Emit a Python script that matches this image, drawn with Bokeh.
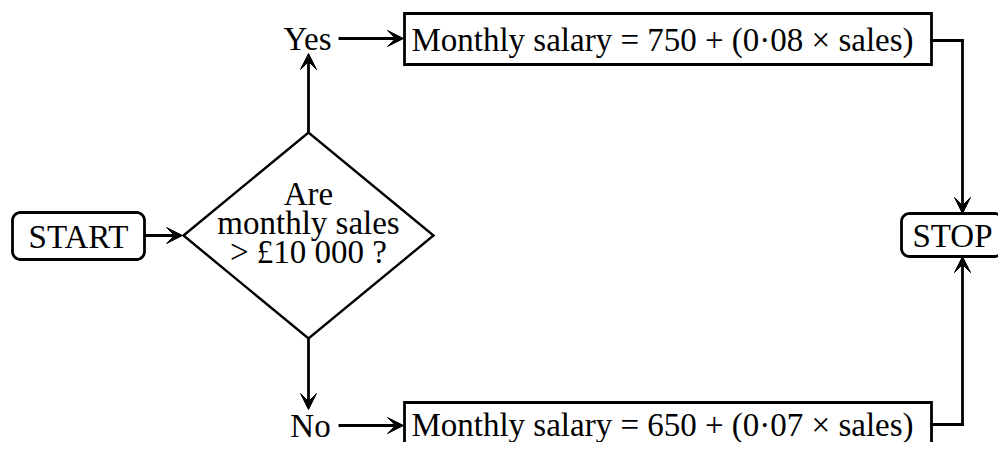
import numpy as np
from bokeh.plotting import figure
from bokeh.models import Range1d, Arrow, VeeHead
from bokeh.core.properties import value
from bokeh.embed import file_html
from bokeh.resources import INLINE

# ---- content ----
start_label = "START"
stop_label = "STOP"
question_lines = ["Are", "monthly sales", "> £10 000 ?"]
yes_label = "Yes"
no_label = "No"
yes_formula = "Monthly salary = 750 + (0·08 × sales)"
no_formula = "Monthly salary = 650 + (0·07 × sales)"

# ---- layout (reference pixel coordinates) ----
start_box = [12, 144, 212, 259]      # left, right, top, bottom
stop_box = [901, 1002, 213, 256]
diamond = [308, 235, 125, 103]       # cx, cy, half width, half height
yes_box = [404, 931, 13, 64]
no_box = [404, 931, 402, 480]
join_x = 962

FONT = value("Liberation Serif")
FS = "33px"
LW = 2.8

p = figure(width=998, height=442, x_range=Range1d(0, 998), y_range=Range1d(442, 0),
           output_backend="svg", toolbar_location=None, x_axis_type=None, y_axis_type=None,
           min_border=0, outline_line_color=None)
p.grid.visible = False


def rounded(box, r=8, n=8):
    l, rt, t, b = box
    xs, ys = [], []
    corners = [(rt - r, t + r, -np.pi / 2, 0), (rt - r, b - r, 0, np.pi / 2),
               (l + r, b - r, np.pi / 2, np.pi), (l + r, t + r, np.pi, 1.5 * np.pi)]
    for cx, cy, a0, a1 in corners:
        a = np.linspace(a0, a1, n)
        xs.extend(cx + r * np.cos(a))
        ys.extend(cy + r * np.sin(a))
    return xs, ys


for box in (start_box, stop_box):
    xs, ys = rounded(box)
    p.patch(xs, ys, fill_color="white", line_color="black", line_width=LW)

for box in (yes_box, no_box):
    l, r, t, b = box
    p.patch([l, r, r, l], [t, t, b, b], fill_color="white", line_color="black",
            line_width=LW, line_join="miter")

cx, cy, hw, hh = diamond
p.patch([cx - hw, cx, cx + hw, cx], [cy, cy - hh, cy, cy + hh], fill_color="white",
        line_color="black", line_width=2.4, line_join="miter")


def arrow(x0, y0, x1, y1):
    p.add_layout(Arrow(end=VeeHead(size=16, fill_color="black", line_color="black", line_width=1),
                       x_start=x0, y_start=y0, x_end=x1, y_end=y1,
                       line_color="black", line_width=LW))


yes_y = 38
no_y = 425
arrow(start_box[1], cy, cx - hw - 1, cy)
arrow(cx, cy - hh, cx, 53)
arrow(cx, cy + hh, cx, 409)
arrow(338, yes_y, yes_box[0] - 1, yes_y)
arrow(338, no_y, no_box[0] - 1, no_y)

top_conn_y = 40
bot_conn_y = 424
p.line([yes_box[1], join_x], [top_conn_y, top_conn_y], line_color="black", line_width=LW, line_cap="square")
p.line([no_box[1], join_x], [bot_conn_y, bot_conn_y], line_color="black", line_width=LW, line_cap="square")
arrow(join_x, top_conn_y, join_x, stop_box[2])
arrow(join_x, bot_conn_y, join_x, stop_box[3])

# texts (y = visual middle of capitals)
tx = [78, 952, cx, cx, cx, 307, 310, 662, 662]
ty = [236, 235, 193, 222, 251, 38, 425, 39, 424]
tt = [start_label, stop_label] + question_lines + [yes_label, no_label, yes_formula, no_formula]
p.text(tx, ty, text=tt, text_font=FONT, text_font_size=FS, text_align="center",
       text_baseline="middle", text_color="black")

open("out.html", "w").write(file_html(p, INLINE))
